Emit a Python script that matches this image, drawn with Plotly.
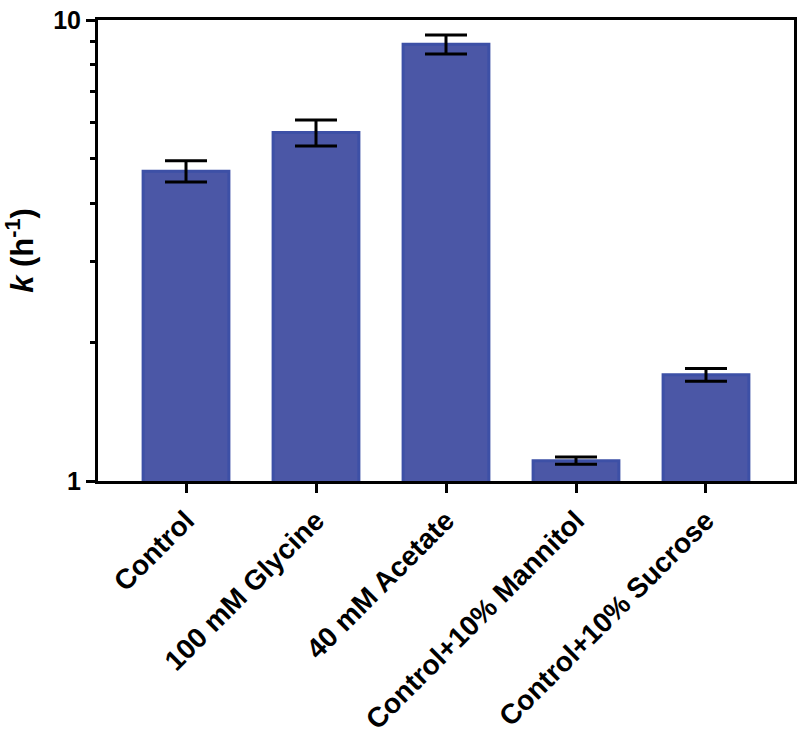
import plotly.graph_objects as go

categories = ["Control", "100 mM Glycine", "40 mM Acetate", "Control+10% Mannitol", "Control+10% Sucrose"]
k_values = [4.70, 5.70, 8.86, 1.107, 1.70]
k_errors = [0.25, 0.37, 0.42, 0.02, 0.054]

fig = go.Figure()
fig.add_trace(go.Bar(
    x=categories, y=k_values, width=0.66,
    marker=dict(color="#4b57a6", line=dict(color="#3d50a6", width=3)),
    error_y=dict(type="data", array=k_errors, color="black", thickness=3, width=21, visible=True),
))

font = "Liberation Sans, Arial, sans-serif"
fig.update_layout(
    width=800, height=734,
    margin=dict(l=98, r=6, t=20, b=253, autoexpand=False),
    plot_bgcolor="white", paper_bgcolor="white",
    showlegend=False,
    font=dict(family=font, color="black"),
    xaxis=dict(
        range=[-0.677, 4.677], showline=True, linecolor="black", linewidth=3, mirror=True,
        ticks="outside", ticklen=9, tickwidth=3, tickcolor="black", tickangle=-45,
        tickfont=dict(size=28, family=font, color="black", weight="bold"),
        showgrid=False, ticklabeloverflow="allow", automargin=False,
    ),
    yaxis=dict(
        type="log", range=[0, 1], showline=True, linecolor="black", linewidth=3, mirror=True,
        tickvals=[1, 10], ticktext=["1", "10"], ticks="outside", ticklen=9, tickwidth=3, tickcolor="black",
        tickfont=dict(size=25, family=font, color="black", weight="bold"),
        ticklabeloverflow="allow", automargin=False,
        minor=dict(tickvals=[2, 3, 4, 5, 6, 7, 8, 9], ticks="outside", ticklen=5, tickwidth=3,
                   tickcolor="black", showgrid=False),
        showgrid=False, zeroline=False,
        title=dict(text="<b><i>k</i> (h<sup>-1</sup>)</b>", font=dict(size=31, family=font, color="black"),
                   standoff=14),
    ),
)
fig.write_html("out.html", config={"displayModeBar": False},
               post_script="document.body.style.margin='0';")
